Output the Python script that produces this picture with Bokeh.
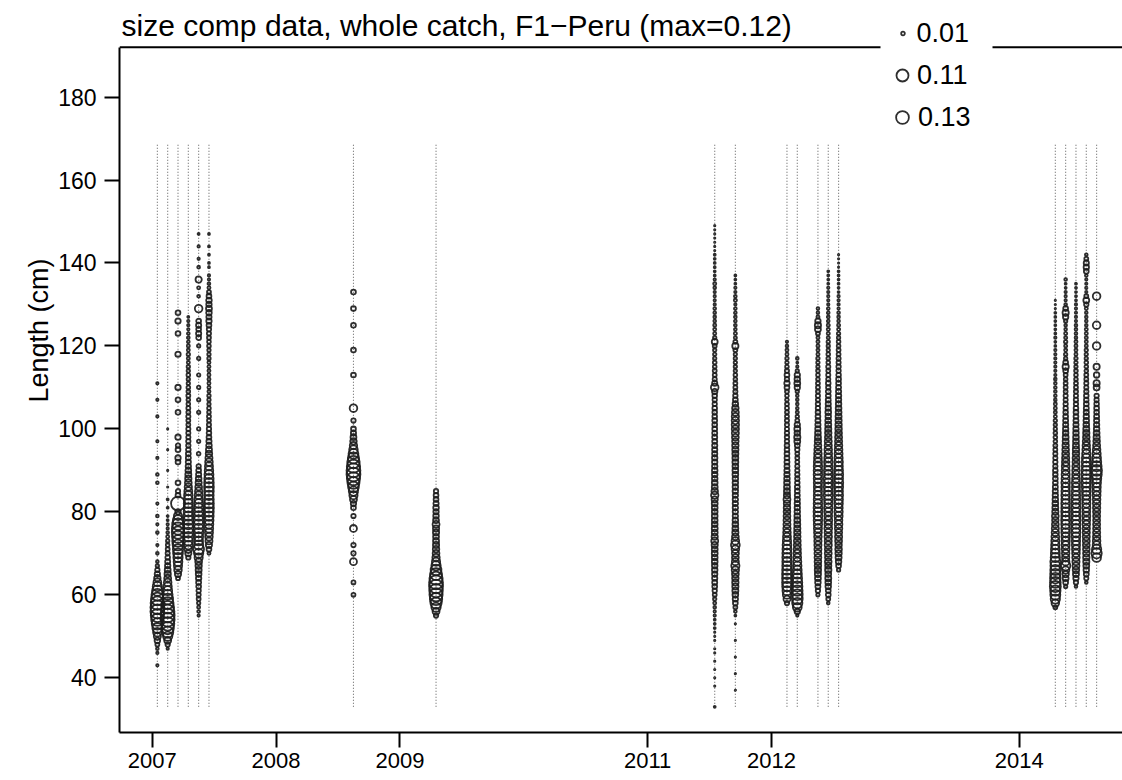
import math
from bokeh.plotting import figure
from bokeh.models import (ColumnDataSource, FixedTicker, Legend, LegendItem,
                          Range1d, Label, Title)
from bokeh.embed import file_html
from bokeh.resources import INLINE

# ---------------- data ----------------
title_text = "size comp data, whole catch, F1\u2212Peru (max=0.12)"
y_label = "Length (cm)"

sample_years = [2007, 2007, 2007, 2007, 2007, 2007, 2008, 2009, 2011, 2011,
                2012, 2012, 2012, 2012, 2012, 2014, 2014, 2014, 2014, 2014]
sample_months = [1, 2, 3, 4, 5, 6, 8, 4, 7, 9, 2, 3, 5, 6, 7, 4, 5, 6, 7, 8]

x_tick_values = [2007, 2008, 2009, 2011, 2012, 2014]
x_tick_labels = ["2007", "2008", "2009", "2011", "2012", "2014"]
y_tick_values = [40, 60, 80, 100, 120, 140, 160, 180]

bin_min = 33          # smallest length bin (cm)
bin_max = 169         # largest length bin (cm)

legend_values = [0.01, 0.11, 0.13]
legend_labels = ["0.01", "0.11", "0.13"]

# proportions at 1-cm length bins, first bin given by start_*
start_2007_01 = 43
comp_2007_01 = [.003, 0, 0, .003, .004, .008, .016, .026, .038, .052,
                .066, .08, .09, .1, .1, .095, .085, .072, .058, .045,
                .032, .022, .015, .01, .006, .004, 0, .004, 0, .003,
                0, 0, .004, 0, .003, 0, .004, 0, 0, .003,
                0, 0, 0, 0, .004, 0, .004, 0, 0, 0,
                .003, 0, 0, 0, .003, 0, 0, 0, 0, 0,
                .003, 0, 0, 0, .003, 0, 0, 0, .003]
start_2007_02 = 47
comp_2007_02 = [.003, .01, .025, .045, .065, .08, .092, .1, .1, .095,
                .085, .072, .06, .05, .042, .035, .03, .025, .021, .018,
                .015, .013, .011, .009, .008, .007, .006, .005, .004, .003,
                .003, .002, .002, 0, .002, 0, .002, 0, 0, .001,
                0, 0, 0, .001, 0, 0, 0, 0, .001, 0,
                0, 0, 0, .001]
start_2007_03 = 64
comp_2007_03 = [.008, .02, .03, .035, .04, .045, .05, .055, .06, .07,
                .075, .08, .078, .07, .055, .035, .015, 0, .1, 0,
                .012, .01, 0, .012, 0, 0, 0, 0, .012, .015,
                0, .012, .01, 0, .015, 0, 0, 0, 0, 0,
                .012, 0, 0, .012, 0, 0, .015, 0, 0, 0,
                0, 0, 0, 0, .015, 0, 0, 0, 0, .012,
                0, 0, .015, 0, .012]
start_2007_04 = 69
comp_2007_04 = [.01, .02, .03, .038, .045, .05, .052, .052, .05, .048,
                .046, .045, .045, .044, .042, .038, .033, .028, .024, .021,
                .019, .017, .015, .014, .013, .012, .011, .01, .01, .009,
                .009, .009, .008, .008, .009, .008, .008, .007, .007, .008,
                .007, .007, .006, .006, .007, .006, .006, .005, .005, .006,
                .005, .005, .004, .004, .004, .003, .003, .003, .002]
start_2007_05 = 55
comp_2007_05 = [.003, .004, .005, .006, .008, .009, .01, .012, .013, .015,
                .017, .019, .021, .024, .035, .045, .06, .045, .04, .042,
                .045, .048, .05, .05, .048, .046, .044, .04, .036, .032,
                .028, .024, .02, .017, .014, .012, .01, 0, 0, .007,
                0, 0, .006, 0, 0, .006, 0, 0, 0, .006,
                0, 0, .006, 0, 0, .006, 0, 0, .006, 0,
                0, 0, .006, 0, 0, .006, 0, .012, .014, .012,
                .014, .012, 0, 0, .03, 0, 0, .004, 0, .005,
                0, .02, 0, 0, .004, 0, .003, 0, 0, .003,
                0, 0, .002]
start_2007_06 = 70
comp_2007_06 = [.005, .012, .02, .026, .03, .034, .037, .04, .043, .046,
                .048, .05, .05, .048, .046, .048, .05, .048, .045, .042,
                .038, .034, .03, .026, .022, .019, .016, .014, .012, .011,
                .01, .009, .008, .008, .007, .007, .006, .006, .006, .005,
                .005, .005, .005, .005, .005, .005, .005, .006, .006, .006,
                .007, .007, .008, .009, .01, .012, .015, .014, .016, .018,
                .015, .016, .012, .008, .005, .004, .003, .003, 0, .002,
                .002, 0, .002, 0, .002, 0, 0, .002]
start_2008_08 = 60
comp_2008_08 = [.008, 0, 0, .008, 0, 0, 0, 0, .025, 0,
                .01, 0, .01, 0, 0, 0, .025, 0, 0, .01,
                0, .012, .015, .025, .035, .045, .06, .075, .09, .1,
                .1, .092, .08, .065, .05, .038, .028, .022, .018, .014,
                .012, 0, .01, 0, 0, .03, 0, 0, 0, 0,
                0, 0, 0, .012, 0, 0, 0, 0, 0, .012,
                0, 0, 0, 0, 0, .012, 0, 0, 0, .012,
                0, 0, 0, .012]
start_2009_04 = 55
comp_2009_04 = [.01, .025, .045, .065, .08, .09, .095, .1, .1, .09,
                .075, .06, .045, .035, .028, .024, .022, .02, .019, .018,
                .02, .02, .025, .018, .016, .015, .016, .014, .012, .012,
                .01]
start_2011_07 = 33
comp_2011_07 = [.002, 0, 0, 0, 0, .001, 0, .001, 0, .001,
                0, .001, 0, .001, .001, 0, .001, .001, .001, .002,
                .002, .002, .003, .003, .004, .005, .006, .008, .01, .012,
                .013, .014, .015, .016, .016, .017, .017, .018, .018, .02,
                .025, .02, .018, .018, .017, .017, .017, .017, .017, .018,
                .02, .028, .022, .018, .017, .016, .016, .016, .015, .015,
                .015, .014, .014, .014, .013, .013, .013, .012, .012, .012,
                .011, .011, .011, .01, .01, .011, .015, .03, .014, .009,
                .008, .008, .007, .007, .006, .006, .006, .008, .018, .006,
                .005, .005, .005, .004, .004, .004, .004, .003, .003, .003,
                .003, .004, .005, .003, .002, .002, .002, .002, .002, .002,
                .001, .001, .001, .001, .001, .001, .001]
start_2011_09 = 37
comp_2011_09 = [.001, 0, 0, 0, .001, 0, 0, 0, .001, 0,
                0, 0, .001, 0, 0, 0, .001, 0, .002, .004,
                .008, .012, .015, .017, .019, .02, .021, .022, .024, .028,
                .035, .026, .024, .026, .03, .04, .03, .024, .02, .018,
                .017, .016, .015, .015, .015, .015, .015, .015, .016, .016,
                .016, .016, .017, .017, .017, .018, .018, .019, .02, .021,
                .022, .024, .026, .027, .028, .028, .027, .025, .022, .016,
                .012, .01, .009, .008, .008, .007, .007, .006, .006, .006,
                .006, .006, .008, .02, .008, .005, .005, .004, .004, .004,
                .004, .004, .004, .003, .005, .004, .003, .003, .002, .002,
                .002]
start_2012_02 = 58
comp_2012_02 = [.01, .025, .035, .042, .047, .05, .05, .05, .048, .046,
                .045, .045, .044, .042, .04, .036, .033, .03, .028, .026,
                .025, .024, .023, .022, .021, .025, .02, .019, .018, .017,
                .016, .015, .014, .013, .013, .012, .012, .011, .011, .01,
                .01, .01, .009, .009, .009, .008, .008, .008, .008, .007,
                .007, .008, .012, .015, .01, .012, .009, .007, .006, .006,
                .005, .005, .004, .003]
start_2012_03 = 55
comp_2012_03 = [.003, .015, .04, .055, .06, .06, .058, .055, .052, .048,
                .044, .04, .037, .034, .031, .029, .027, .025, .024, .022,
                .021, .02, .019, .018, .017, .016, .015, .015, .014, .013,
                .012, .012, .011, .01, .01, .009, .009, .008, .008, .008,
                .01, .012, .018, .02, .016, .018, .015, .008, .006, .005,
                .004, .004, .004, .004, .006, .015, .018, .016, .015, .006,
                .003, .002, .004]
start_2012_05 = 60
comp_2012_05 = [.006, .01, .013, .016, .018, .02, .021, .022, .023, .024,
                .025, .026, .027, .028, .03, .032, .034, .036, .038, .04,
                .04, .039, .038, .037, .036, .035, .035, .036, .037, .038,
                .038, .037, .035, .032, .03, .027, .024, .021, .019, .017,
                .015, .014, .013, .012, .011, .01, .01, .009, .009, .008,
                .008, .008, .007, .007, .007, .006, .006, .006, .005, .005,
                .005, .005, .005, .008, .018, .02, .015, .005, .004, .004]
start_2012_06 = 58
comp_2012_06 = [.004, .008, .012, .012, .016, .017, .019, .018, .021, .02,
                .023, .022, .025, .024, .027, .026, .029, .028, .031, .03,
                .033, .031, .034, .036, .035, .038, .042, .039, .041, .04,
                .043, .038, .039, .036, .037, .033, .031, .03, .027, .026,
                .023, .022, .02, .019, .018, .016, .017, .015, .014, .013,
                .012, .012, .01, .011, .009, .009, .008, .009, .007, .007,
                .007, .006, .006, .006, .005, .005, .005, .005, .004, .004,
                .004, .004, .003, .003, .003, .003, .003, .002, .002, .002,
                .002]
start_2012_07 = 66
comp_2012_07 = [.006, .012, .016, .019, .021, .023, .022, .025, .027, .026,
                .029, .031, .03, .034, .036, .035, .038, .04, .042, .04,
                .043, .045, .042, .044, .041, .038, .039, .035, .033, .031,
                .029, .027, .026, .024, .022, .021, .02, .019, .018, .017,
                .016, .015, .015, .014, .013, .012, .012, .011, .01, .01,
                .009, .009, .008, .008, .007, .007, .006, .006, .005, .005,
                .004, .004, .004, .003, .003, .003, .003, .002, .002, .002,
                .002, .002, .002, .001, .001, .001, .001]
start_2014_04 = 57
comp_2014_04 = [.008, .03, .045, .052, .056, .063, .06, .058, .055, .053,
                .05, .052, .045, .042, .04, .037, .034, .031, .028, .026,
                .024, .022, .024, .02, .018, .017, .016, .015, .014, .013,
                .012, .012, .011, .011, .01, .01, .009, .009, .008, .008,
                .007, .007, .007, .006, .006, .006, .005, .005, .005, .005,
                .004, .004, .004, .004, .004, .004, .003, .003, .003, .003,
                .003, .003, .003, .002, .002, .003, .002, .002, .002, .002,
                .002, .002, .001, .001, .001]
start_2014_05 = 62
comp_2014_05 = [.006, .012, .018, .022, .028, .045, .03, .028, .029, .031,
                .033, .035, .037, .039, .04, .041, .042, .04, .041, .039,
                .04, .038, .039, .037, .036, .038, .035, .034, .032, .031,
                .029, .027, .025, .023, .021, .019, .018, .016, .015, .014,
                .013, .012, .011, .01, .01, .009, .009, .008, .008, .008,
                .007, .008, .012, .02, .012, .006, .006, .005, .005, .006,
                .005, .005, .004, .004, .006, .015, .02, .012, .004, .003,
                .003, .003, .002, .002, .004]
start_2014_06 = 62
comp_2014_06 = [.004, .01, .015, .019, .022, .025, .027, .029, .031, .033,
                .035, .036, .038, .04, .041, .04, .042, .04, .039, .041,
                .038, .039, .037, .036, .034, .035, .032, .03, .029, .027,
                .025, .024, .022, .021, .019, .018, .017, .016, .015, .014,
                .013, .012, .012, .011, .01, .01, .009, .009, .008, .008,
                .007, .007, .007, .006, .006, .006, .005, .005, .005, .005,
                .004, .004, .004, .004, .003, .003, .003, .003, .003, .002,
                .002, .002, .002, .002]
start_2014_07 = 63
comp_2014_07 = [.004, .009, .013, .016, .018, .02, .021, .022, .023, .024,
                .025, .026, .027, .028, .03, .031, .033, .032, .034, .035,
                .036, .038, .04, .042, .045, .043, .046, .044, .042, .043,
                .04, .036, .032, .029, .026, .023, .021, .019, .017, .016,
                .015, .014, .013, .012, .011, .011, .01, .009, .009, .008,
                .008, .007, .007, .007, .006, .006, .006, .005, .005, .005,
                .005, .005, .004, .004, .004, .004, .005, .01, .018, .008,
                .003, .003, .003, .003, .004, .012, .015, .014, .008, .004]
start_2014_08 = 69
comp_2014_08 = [.04, .055, .045, .032, .03, .028, .027, .026, .026, .025,
                .026, .027, .028, .029, .03, .032, .034, .036, .04, .045,
                .055, .06, .052, .045, .04, .035, .03, .026, .023, .02,
                .018, .016, .015, .014, .013, .012, .012, .011, .01, .01,
                0, .018, .02, 0, .016, 0, .02, 0, 0, 0,
                0, .03, 0, 0, 0, 0, .03, 0, 0, 0,
                0, 0, 0, .03]

starts = [start_2007_01, start_2007_02, start_2007_03, start_2007_04, start_2007_05,
          start_2007_06, start_2008_08, start_2009_04, start_2011_07, start_2011_09,
          start_2012_02, start_2012_03, start_2012_05, start_2012_06, start_2012_07,
          start_2014_04, start_2014_05, start_2014_06, start_2014_07, start_2014_08]
comps = [comp_2007_01, comp_2007_02, comp_2007_03, comp_2007_04, comp_2007_05,
         comp_2007_06, comp_2008_08, comp_2009_04, comp_2011_07, comp_2011_09,
         comp_2012_02, comp_2012_03, comp_2012_05, comp_2012_06, comp_2012_07,
         comp_2014_04, comp_2014_05, comp_2014_06, comp_2014_07, comp_2014_08]

# ---------------- styling / layout ----------------
FONT = "Liberation Sans"
BUB_K = 44.0            # bubble diameter (px) per sqrt(proportion), plot area
LEG_K = 36.0            # bubble diameter (px) per sqrt(proportion), legend
BUB_LINE = "#1c1c1c"

times = [y + (m - 0.5) / 12.0 for y, m in zip(sample_years, sample_months)]

xs, ys, sizes = [], [], []
for t, s0, comp in zip(times, starts, comps):
    for i, prop in enumerate(comp):
        if prop > 0:
            xs.append(t)
            ys.append(s0 + i)
            sizes.append(BUB_K * math.sqrt(prop))
src = ColumnDataSource(dict(x=xs, y=ys, size=sizes))

FIG_W, FIG_H = 1122, 780
BORDER_L, BORDER_B = 119, 48
frame_left = BORDER_L
frame_bottom = FIG_H - BORDER_B      # 732

x_lo, x_hi = 2006.736, 2014.834
box_bottom, box_top = 26.81, 192.016
p = figure(width=FIG_W, height=FIG_H, output_backend="svg", toolbar_location=None,
           x_range=Range1d(x_lo, x_hi), y_range=Range1d(box_bottom, 203.28),
           min_border_left=BORDER_L, min_border_right=0, min_border_top=0,
           min_border_bottom=BORDER_B, outline_line_color=None, title_location=None,
           background_fill_color="white", border_fill_color="white")
p.grid.visible = False

# x axis
xa = p.xaxis[0]
xa.ticker = FixedTicker(ticks=x_tick_values)
xa.major_label_overrides = {v: l for v, l in zip(x_tick_values, x_tick_labels)}
xa.axis_line_width = 2
xa.major_tick_line_width = 2
xa.major_tick_out = 15
xa.major_tick_in = 0
xa.minor_tick_out = 0
xa.minor_tick_in = 0
xa.major_label_standoff = 5
xa.major_label_text_font = FONT
xa.major_label_text_font_size = "22px"
xa.major_label_text_color = "black"

# y axis (box's left side)
ya = p.yaxis[0]
ya.ticker = FixedTicker(ticks=y_tick_values)
ya.bounds = (box_bottom, box_top)
ya.axis_line_width = 2
ya.major_tick_line_width = 2
ya.major_tick_out = 15
ya.major_tick_in = 0
ya.minor_tick_out = 0
ya.minor_tick_in = 0
ya.major_label_standoff = 8
ya.major_label_text_font = FONT
ya.major_label_text_font_size = "23px"
ya.major_label_text_color = "black"

# y axis title: starts ~402 px from the top and reads upwards
p.add_layout(Title(text=y_label, align="left", offset=330, standoff=4,
                   text_font=FONT, text_font_size="27px", text_font_style="normal",
                   text_color="black"), "left")

# dotted sample lines
p.segment(x0=times, y0=[bin_min] * len(times), x1=times, y1=[bin_max] * len(times),
          line_color="#666666", line_width=1.1, line_dash="1 2")

# bubbles
r = p.scatter(x="x", y="y", size="size", source=src, marker="circle",
              fill_color=None, line_color=BUB_LINE, line_alpha=0.92, line_width=1.8)

# top side of the box, broken where the legend sits
px_per_year = (1018.7 - 151.7) / 7.0
gap_l = 2007 + (880 - 151.7) / px_per_year
gap_r = 2007 + (992 - 151.7) / px_per_year
p.segment(x0=[x_lo, gap_r], y0=[box_top, box_top], x1=[gap_l, x_hi], y1=[box_top, box_top],
          line_color="black", line_width=2)

# title (left aligned with the box)
p.add_layout(Label(x=2, y=frame_bottom - 36 + 11, x_units="screen", y_units="screen",
                   text=title_text, text_font=FONT, text_font_size="30px",
                   text_color="black", text_align="left", text_baseline="alphabetic"))

# legend (one per entry so each circle gets its own size)
legend_cx = 902
legend_rows = [33, 75, 117]
legend_text_x = 917
entry_h = 34
for val, lab, cy in zip(legend_values, legend_labels, legend_rows):
    g = LEG_K * math.sqrt(val) / 0.4
    gw = int(round(g))
    left = legend_cx - gw / 2
    bottom = cy + entry_h / 2
    leg = Legend(items=[LegendItem(label=lab, renderers=[r])],
                 location=(left - frame_left, frame_bottom - bottom),
                 glyph_width=gw, glyph_height=entry_h,
                 label_standoff=max(0, int(round(legend_text_x - (legend_cx + gw / 2)))),
                 padding=0, spacing=0, margin=0, label_height=entry_h,
                 label_text_font=FONT, label_text_font_size="27px",
                 label_text_color="black",
                 background_fill_color="white", background_fill_alpha=1.0,
                 border_line_color=None)
    p.add_layout(leg)

open("out.html", "w").write(file_html(p, INLINE))
